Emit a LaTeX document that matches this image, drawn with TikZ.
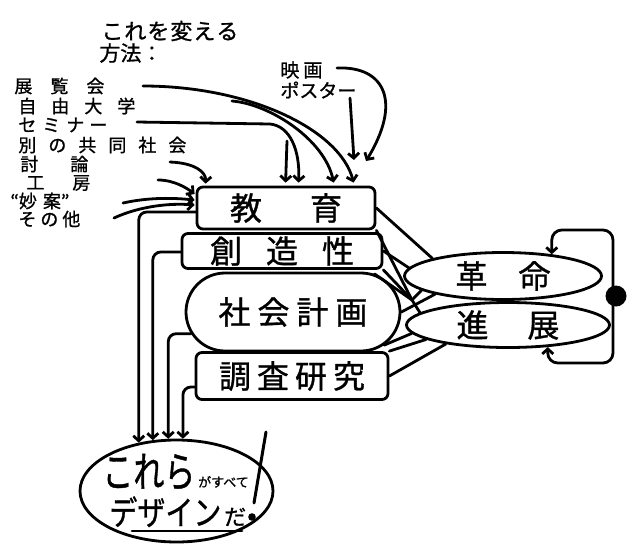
\documentclass[tikz,border=0pt]{standalone}
\usepackage{fontspec}
\newfontfamily\jp{Noto Sans CJK JP}[FakeBold=1]
\usetikzlibrary{arrows.meta,shapes.geometric,shapes.misc,calc}
\newcommand\kk[1]{\kern#1pt\relax}
\begin{document}
\begin{tikzpicture}[x=1pt,y=-1pt,line width=2.8pt,line cap=round,line join=round,
  >={Straight Barb[length=5pt,width=11pt]},
  lst/.style={font=\jp\fontsize{18}{18}\selectfont,anchor=west,inner sep=0pt},
  big/.style={font=\jp\fontsize{32}{32}\selectfont,inner sep=0pt},
  boxa/.style={draw,rounded corners=6pt,big},
  ell/.style={draw,ellipse,big}]
\useasboundingbox (0,0) rectangle (635,547);
\fill[white] (0,0) rectangle (635,547);

% title
\node[lst,font=\jp\fontsize{22}{22}\selectfont] (t1) at (100,31) {こ\kk{1}れ\kk{1}を\kk{1}変\kk{1}え\kk{1}る};
\node[lst,font=\jp\fontsize{21}{21}\selectfont] (t2) at (98,53) {方法：};

% list
\node[lst] (l1) at (13,86) {展\kk{18}覧\kk{18}会};
\node[lst] (l2) at (17,106) {自\kk{15}由\kk{15}大\kk{15}学};
\node[lst] (l3) at (17,125) {セ\kk{6}ミ\kk{6}ナ\kk{5}ー};
\node[lst] (l4) at (17,145) {別\kk{12}の\kk{12}共\kk{12}同\kk{12}社\kk{12}会};
\node[lst] (l5) at (19,164) {討\kk{32}論};
\node[lst] (l6) at (25,183) {工\kk{28}房};
\node[lst] (l7) at (9,201) {“妙\kk{6}案”};
\node[lst] (l8) at (17,219) {そ\kk{4}の\kk{4}他};
\node[lst,font=\jp\fontsize{19}{19}\selectfont] (m1) at (279,70) {映\kk{4}画};
\node[lst,font=\jp\fontsize{19}{19}\selectfont] (m2) at (279,90) {ポスター};

% boxes
\node[boxa,minimum width=178,minimum height=42] (edu) at (286,208) {教\kk{48}育};
\node[boxa,minimum width=200,minimum height=35] (cre) at (282,251) {創\kk{24}造\kk{24}性};
\node[draw,rounded rectangle,minimum width=214,minimum height=78,big] (plan) at (293,312) {社\kk{7}会\kk{7}計\kk{7}画};
\node[boxa,minimum width=192,minimum height=47] (res) at (292,376) {調\kk{6}査\kk{6}研\kk{6}究};

\node[ell,minimum width=197,minimum height=47] (rev) at (503,276) {革\kk{31}命};
\node[ell,minimum width=203,minimum height=45] (prog) at (508,325) {進\kk{39}展};
\node[circle,fill,minimum width=20,minimum height=21,inner sep=0pt] (dot) at (616,296) {};

% bottom ellipse
\node[draw,ellipse,minimum width=193,minimum height=102,inner sep=0pt] (des) at (176.5,491) {};
\node[inner sep=0pt,anchor=base west,font=\jp\fontsize{31}{31}\selectfont] (k1) at (101,487) {\scalebox{1}[1.35]{これら}};
\node[inner sep=0pt,anchor=base west,font=\jp\fontsize{13}{13}\selectfont] (k2) at (k1.base east) {がすべて};
\node[inner sep=0pt,anchor=base west,font=\jp\fontsize{28}{28}\selectfont] (k3) at (108,525) {\scalebox{1}[1.2]{デザイン}};
\node[inner sep=0pt,anchor=base west,font=\jp\fontsize{22}{22}\selectfont] (k4) at (k3.base east) {だ};
\draw[line width=3pt] (266,432) -- (254,503);
\fill (252,517) circle (3.8);
\draw (132,531) -- (242,531);

% free ends
\coordinate (a1) at (143,86);
\coordinate (a2) at (232,101);
\coordinate (a3) at (137,122);
\coordinate (a4) at (287,141);
\coordinate (a5) at (170,162);
\coordinate (a6) at (158,180);
\coordinate (a7) at (123,203);
\coordinate (a8) at (114,218);
\coordinate (b1) at (337,68);
\coordinate (b1e) at (366,161);
\coordinate (b2) at (350,98);
\coordinate (b2e) at (354,160);
\coordinate (hub) at (412,300);

% arrows into 教育
\draw[->] (a1) .. controls (250,86) and (340,130) .. ($(edu.north west)+(158,-3)$);
\draw[->] (a2) .. controls (270,104) and (325,140) .. ($(edu.north west)+(138,-3)$);
\draw[->] (a3) -- (270,124) .. controls (290,126) and (300,150) .. ($(edu.north west)+(103,-3)$);
\draw[->] (a4) -- ($(edu.north west)+(90,-3)$);
\draw[->] (a5) .. controls (195,163) and (206,172) .. ($(edu.north west)+(10,-2)$);
\draw[->] (a6) .. controls (175,180) and (188,189) .. ($(edu.west)+(-1,-14)$);
\draw[->] (a7) .. controls (150,197) and (175,198) .. ($(edu.west)+(-1,-8)$);
\draw[->] (a8) .. controls (140,206) and (170,203) .. ($(edu.west)+(-1,-3)$);
\draw[->] (b1) .. controls (385,66) and (402,102) .. (b1e);
\draw[->] (b2) -- (b2e);

% arrows to bottom ellipse
\draw[->,rounded corners=8pt] ($(edu.west)+(0,4)$) -| (des.128.6);
\draw[->,rounded corners=8pt] ($(cre.west)+(0,1)$) -| (des.115.4);
\draw[->,rounded corners=8pt] (plan.192) -| (des.99.5);
\draw[->,rounded corners=8pt] ($(res.west)+(0,11)$) -| (des.83.8);

% tangle to 革命 / 進展
\draw (edu.east) -- (rev.166);
\draw (edu.south east) -- (hub);
\draw (cre.east) -- (rev.175);
\draw (cre.south east) -- (hub);
\draw (plan.25) -- (hub);
\draw (hub) -- (rev.190);
\draw (hub) -- (prog.172);
\draw (plan.east) -- (rev.195);
\draw (plan.-20) -- (prog.185);
\draw (res.north east) -- (prog.190);
\draw (res.east) -- (prog.197);

% loop
\draw[<->,rounded corners=10pt] (rev.24) |- ($(dot)+(-3,-66)$) -- ($(dot)+(-3,67)$) -| (prog.-29);
\end{tikzpicture}
\end{document}
